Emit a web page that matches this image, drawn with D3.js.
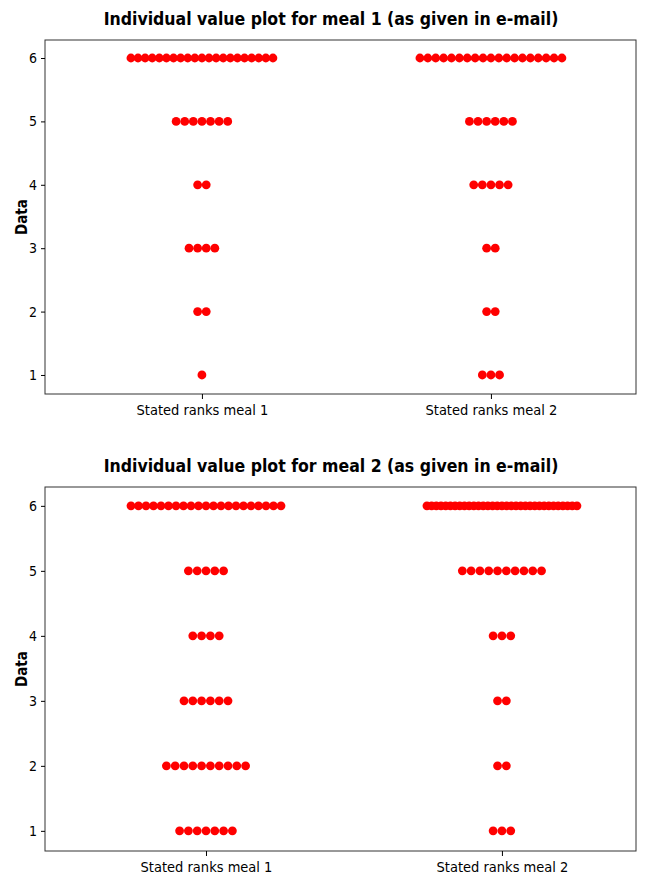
<!DOCTYPE html>
<html>
<head>
<meta charset="utf-8">
<script src="https://cdn.jsdelivr.net/npm/d3@7"></script>
<style>
  body { margin: 0; background: #fff; }
  text { font-family: "DejaVu Sans Condensed", "DejaVu Sans", sans-serif; }
</style>
</head>
<body>
<div id="chart-area"></div>
<script>
// ranks 1..6, number of respondents giving each rank
var ranks = [1, 2, 3, 4, 5, 6];
var categories = ['Stated ranks meal 1', 'Stated ranks meal 2'];
var titles = [
    'Individual value plot for meal 1 (as given in e-mail)',
    'Individual value plot for meal 2 (as given in e-mail)'
];

var meal1Meal1Counts = [1, 2, 4, 2, 7, 21];
var meal1Meal2Counts = [3, 2, 2, 5, 6, 19];
var meal2Meal1Counts = [7, 10, 6, 4, 5, 21];
var meal2Meal2Counts = [3, 2, 2, 3, 10, 33];

var svg = d3.select('#chart-area')
    .append('svg')
        .attr('width', 649)
        .attr('height', 875);

var fontFam = '"DejaVu Sans Condensed", "DejaVu Sans", sans-serif';

function drawPanel(opt) {
    var g = svg.append('g');

    var x = d3.scaleLinear()
        .domain(opt.xDomain)
        .range([opt.left, opt.right]);
    var y = d3.scaleLinear()
        .domain(opt.yDomain)
        .range([opt.bottom, opt.top]);

    // title
    g.append('text')
        .attr('x', 331)
        .attr('y', opt.titleY)
        .attr('text-anchor', 'middle')
        .attr('font-size', '17.5px')
        .attr('font-weight', 'bold')
        .text(opt.title);

    // frame
    g.append('rect')
        .attr('x', opt.left)
        .attr('y', opt.top)
        .attr('width', opt.right - opt.left)
        .attr('height', opt.bottom - opt.top)
        .attr('fill', 'none')
        .attr('stroke', '#333')
        .attr('stroke-width', 1);

    var yAxis = d3.axisLeft(y).tickValues(ranks).tickSize(4).tickPadding(4).tickFormat(d3.format('d'));
    g.append('g')
        .attr('transform', 'translate(' + opt.left + ',0)')
        .call(yAxis)
        .call(a => a.select('.domain').remove())
        .call(a => a.selectAll('text').attr('font-size', '14px').style('font-family', fontFam));

    var xAxis = d3.axisBottom(x).tickValues([1, 2]).tickSize(5).tickPadding(6)
        .tickFormat((d, i) => categories[i]);
    g.append('g')
        .attr('transform', 'translate(0,' + opt.bottom + ')')
        .call(xAxis)
        .call(a => a.select('.domain').remove())
        .call(a => a.selectAll('text').attr('font-size', '14.5px').style('font-family', fontFam));

    // Y-Axis Label
    g.append('text')
        .attr('text-anchor', 'middle')
        .attr('transform', 'translate(27,' + (opt.top + opt.bottom) / 2 + ') rotate(-90)')
        .attr('font-size', '15px')
        .attr('font-weight', 'bold')
        .text('Data');

    // spread the points of each rank side by side
    var points = [];
    opt.counts.forEach((counts, ci) => {
        counts.forEach((n, ri) => {
            var step = Math.min(opt.step, opt.maxWidth / Math.max(n - 1, 1));
            for (var k = 0; k < n; k++) {
                points.push({ cat: ci + 1, rank: ranks[ri], off: (k - (n - 1) / 2) * step });
            }
        });
    });

    g.selectAll('circle')
        .data(points)
        .enter()
        .append('circle')
        .attr('cx', d => x(d.cat) + d.off)
        .attr('cy', d => y(d.rank))
        .attr('r', 4.4)
        .attr('fill', '#ff0000');
}

drawPanel({
    title: titles[0], titleY: 25,
    left: 45, right: 636, top: 40, bottom: 394,
    xDomain: [0.457, 2.502], yDomain: [0.70, 6.284],
    counts: [meal1Meal1Counts, meal1Meal2Counts],
    step: 8.6, maxWidth: 142
});

drawPanel({
    title: titles[1], titleY: 472,
    left: 45, right: 636, top: 487, bottom: 851,
    xDomain: [0.456, 2.453], yDomain: [0.69, 6.29],
    counts: [meal2Meal1Counts, meal2Meal2Counts],
    step: 8.8, maxWidth: 150
});
</script>
</body>
</html>
